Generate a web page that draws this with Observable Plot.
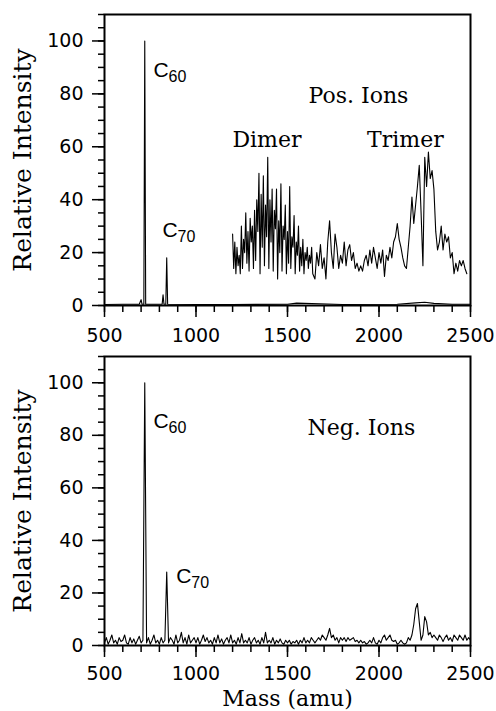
<!DOCTYPE html>
<html><head><meta charset="utf-8">
<script src="https://cdn.jsdelivr.net/npm/d3@7"></script>
<script src="https://cdn.jsdelivr.net/npm/@observablehq/plot@0.6"></script>
<style>body{margin:0;background:#fff} #chart svg{display:block}</style>
</head><body><div id="chart"></div>
<script>
// ---- ticks ----
const xMajor = [500, 1000, 1500, 2000, 2500];
const yMajor = [0, 20, 40, 60, 80, 100];
const xMinor = d3.range(500, 2501, 100);
const yMinor = d3.range(0, 111, 5);

// ---- positive ions: full-scale spectrum ----
const posMass = [500, 600, 690, 700, 705, 715, 720, 725, 810, 815, 820, 825, 835, 840, 845, 1000, 1200, 1500, 1550, 1800, 2100, 2200, 2250, 2300, 2400, 2500];
const posInt  = [0.4, 0.5, 0.5, 2.2, 0.5, 0.5, 100, 0.5, 0.5, 0.5, 4, 0.5, 0.5, 18, 0.5, 0.4, 0.4, 0.5, 0.9, 0.4, 0.5, 1, 1.2, 0.8, 0.5, 0.5];

// ---- positive ions: magnified dimer region (1200..1638, step 6) ----
const dimerStart = 1200, dimerStep = 6;
const dimerInt = [27,14,24,12,22,15,19,12,30,14, 25,20,35,16,28,13,33,24,30,14,
                  36,17,40,28,50,12,42,22,49,15, 38,26,56,14,40,24,44,13,36,29,
                  44,10,32,20,46,13,30,25,38,12, 28,16,45,14,26,22,34,12,24,19,
                  30,13,22,15,25,12,20,17,22,14, 19,16,22,12];

// ---- positive ions: magnified region (1650..2480, step 10) ----
const trimerStart = 1650, trimerStep = 10;
const trimerInt = [10,20,15,23,14,18,10,24,32,20, 14,27,22,14,19,16,24,15,21,23,
                   17,20,14,16,13,15,13,17,19,15, 21,16,22,18,14,20,16,21,11,19,
                   17,22,18,24,26,31,25,22,18,15, 14,22,30,41,31,38,45,53,35,15,
                   56,45,58,48,51,44,28,21,24,30, 21,27,24,26,18,20,12,16,13,17,
                   15,17,14,12];

// ---- negative ions (500..2500, step 10) ----
const negStart = 500, negStep = 10;
const negInt = [1,3,0.5,2,4,1,2,0.5,3,1.5,
                2,4,1,0.5,3,1,2.5,0.5,2,3.5,
                1,2,100,1,3,0.5,2,4,1,2,
                0.5,3,1,2,28,1,3,2,0.5,4,
                1,2,5,1,3,0.5,4,1,2,3,
                1,3,0.5,2,4,1.5,3,1,2,0.5,
                3,1,4,1,2.5,0.5,2,3,1,4,
                1,2,0.5,3,1,4.5,1,2,1,3,
                0.5,2,3,1,2,0.5,3,1,5,1,
                2,1,3,0.5,2,1,2.5,1,0.5,2,
                1,2,0.5,1.5,1,2,0.5,2,1,3,
                1,2,1,3,2,1,2,3,2,4,
                3,2,4,6.5,3,4,2,3,1,3,
                2,3,1.5,3,2,2.5,3,1.5,2,1,
                2,1,1.5,0.5,1,2,1,3,1,0.5,
                2,1,3,4,2,3,4,2,1.5,2,
                0.5,1,2,1,0.5,1,3,2,4,8,
                14,16,9,2,4,11,9,4,5,3,
                4,3,2,4,3,1.5,3,4,2,3,
                1.5,4,3,2,4,3,2,4,2,3,
                2];

// ---- labels ----
const posPeakLabels = [{base: "C", sub: "60", mass: 768, int: 86.4}, {base: "C", sub: "70", mass: 817, int: 25.8}];
const negPeakLabels = [{base: "C", sub: "60", mass: 768, int: 82.8}, {base: "C", sub: "70", mass: 892, int: 23.7}];
const posNotes = [{text: "Pos. Ions", mass: 1615, int: 76.6}, {text: "Dimer", mass: 1199, int: 59.8}, {text: "Trimer", mass: 1935, int: 59.8}];
const negNotes = [{text: "Neg. Ions", mass: 1609, int: 80.2}];
const yTitle = "Relative Intensity";
const xTitle = "Mass (amu)";

// ---- tables ----
const posData = posMass.map((m, i) => ({m, v: posInt[i]}));
const magData = [
  ...dimerInt.map((v, i) => ({m: dimerStart + i * dimerStep, v})),
  ...trimerInt.map((v, i) => ({m: trimerStart + i * trimerStep, v}))
];
const negData = negInt.map((v, i) => ({m: negStart + i * negStep, v}));

const serif = "DejaVu Serif";

function peakLabelMarks(labels) {
  return [
    Plot.text(labels, {x: "mass", y: "int", text: "base", textAnchor: "start", lineAnchor: "bottom",
      fontFamily: "Liberation Sans", fontSize: 21, fill: "black"}),
    Plot.text(labels, {x: "mass", y: "int", text: "sub", textAnchor: "start", lineAnchor: "bottom",
      dx: 15, dy: 5, fontFamily: "Liberation Sans", fontSize: 16, fill: "black"})
  ];
}

function panel({height, marginTop, marginBottom, lines, notes, peaks, showX, xPad}) {
  const marks = [
    Plot.axisX(xMinor, {tickSize: 7, tickFormat: () => "", strokeWidth: 1.5, label: null}),
    Plot.axisX(xMajor, {tickSize: 12, tickPadding: xPad, strokeWidth: 1.5, label: null, tickFormat: d => String(d)}),
    Plot.axisY(yMinor, {tickSize: 6, tickFormat: () => "", strokeWidth: 1.5, label: null}),
    Plot.axisY(yMajor, {tickSize: 12, tickPadding: 9, strokeWidth: 1.5, label: null, tickFormat: d => String(d)}),
    Plot.frame({strokeWidth: 2, stroke: "black"}),
    ...lines.map(d => Plot.line(d, {x: "m", y: "v", stroke: "black", strokeWidth: 1.1})),
    Plot.text(notes, {x: "mass", y: "int", text: "text", textAnchor: "start", lineAnchor: "bottom",
      fontFamily: serif, fontSize: 22, fill: "black"}),
    ...peakLabelMarks(peaks),
    Plot.text([yTitle], {frameAnchor: "left", text: d => d, rotate: -90, dx: -82,
      textAnchor: "middle", lineAnchor: "middle", fontFamily: serif, fontSize: 25, fill: "black"})
  ];
  if (showX) {
    marks.push(Plot.text([xTitle], {frameAnchor: "bottom", text: d => d, dy: 60, textAnchor: "middle",
      lineAnchor: "bottom", fontFamily: serif, fontSize: 22, fill: "black"}));
  }
  return Plot.plot({
    width: 496, height, marginTop, marginBottom, marginLeft: 104, marginRight: 26,
    x: {domain: [500, 2500]},
    y: {domain: [0, 110]},
    style: {fontFamily: "DejaVu Sans", fontSize: "19px", color: "#000", background: "#fff", overflow: "visible"},
    marks
  });
}

const chart = document.getElementById("chart");
chart.append(panel({height: 348, marginTop: 14, marginBottom: 43, lines: [posData, magData], notes: posNotes, peaks: posPeakLabels, showX: false, xPad: 11}));
chart.append(panel({height: 363, marginTop: 8, marginBottom: 66, lines: [negData], notes: negNotes, peaks: negPeakLabels, showX: true, xPad: 9}));
</script>
</body></html>
